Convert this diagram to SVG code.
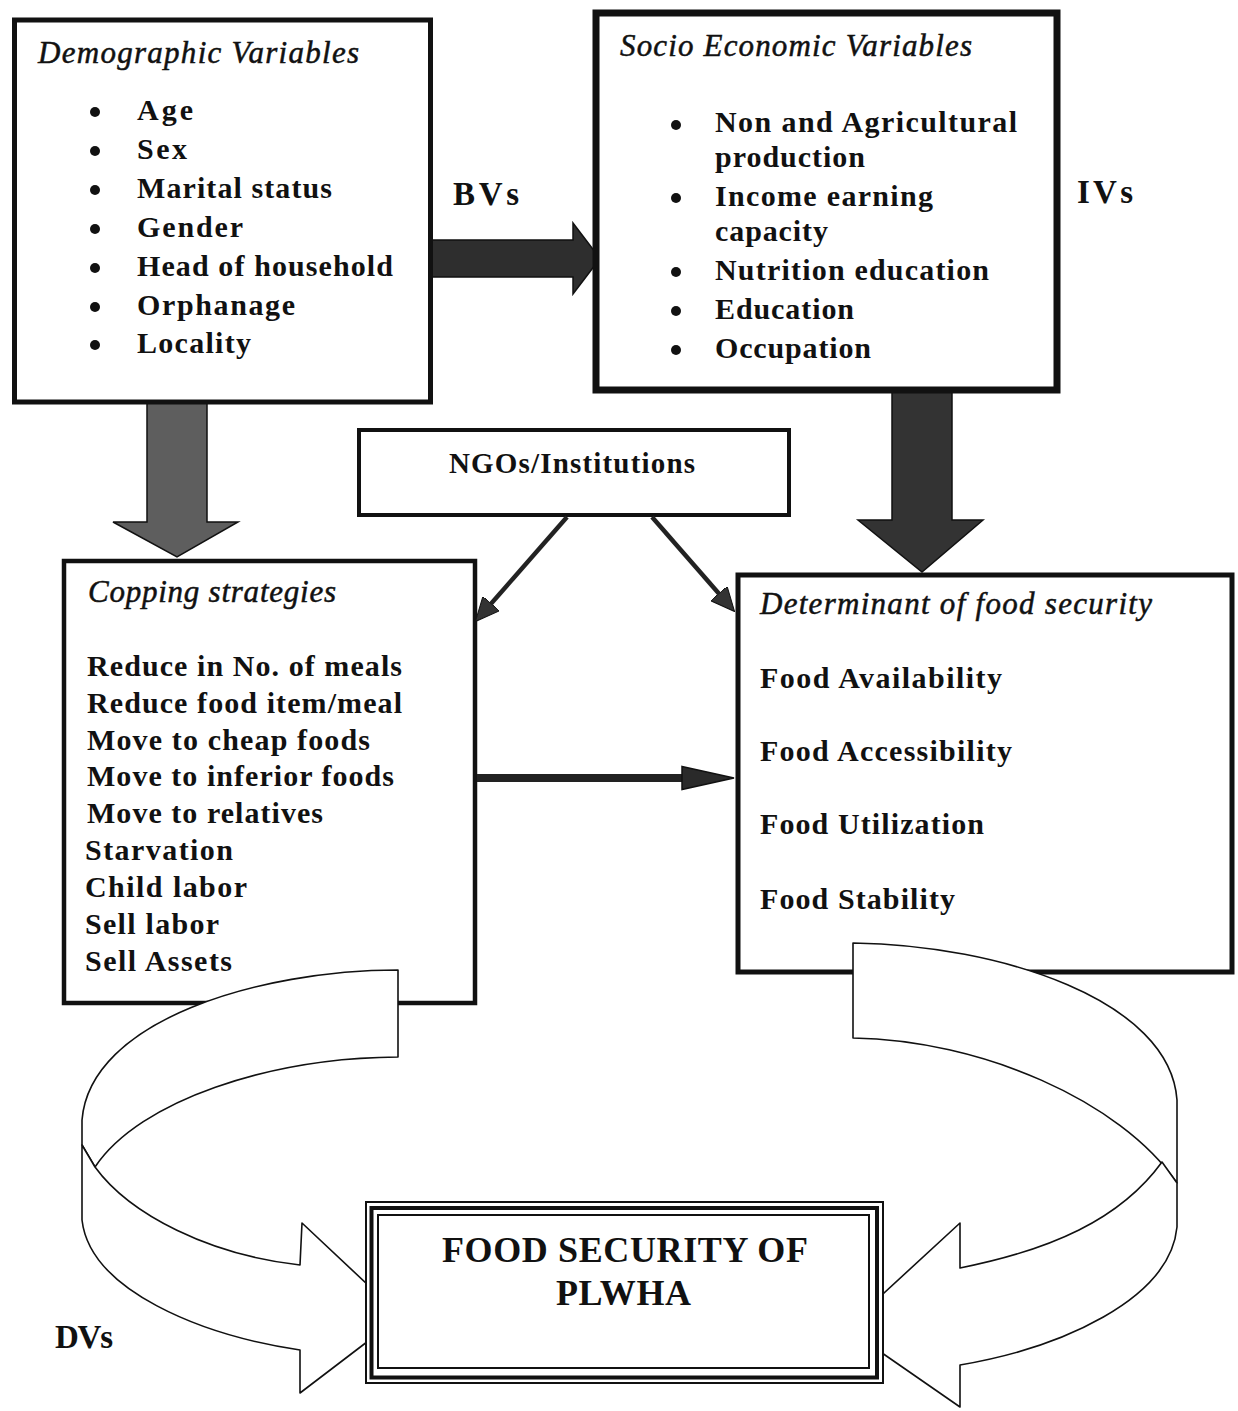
<svg xmlns="http://www.w3.org/2000/svg" width="1238" height="1411" viewBox="0 0 1238 1411">
<style>
text{font-family:"Liberation Serif","Times New Roman",serif;fill:#111;}
.ttl{font-style:italic;font-size:31px;stroke:#111;stroke-width:0.5;}
.it{font-weight:bold;font-size:30px;}
.lbl{font-weight:bold;font-size:33px;}
.box{fill:#fff;stroke:#111;}
.rib{fill:#fff;stroke:#111;stroke-width:1.6;stroke-linejoin:round;}
.blk{stroke:#111;stroke-width:1.5;stroke-linejoin:miter;}
.thin{stroke:#222;stroke-width:4.5;fill:none;}
.bul{fill:#111;}
</style>
<defs>
<marker id="ah" viewBox="0 0 24 22" refX="14" refY="11" markerWidth="24" markerHeight="22" markerUnits="userSpaceOnUse" orient="auto">
<path d="M0,0 L24,11 L0,22 Z" fill="#333" stroke="#111" stroke-width="1"/>
</marker>
</defs>
<rect width="1238" height="1411" fill="#fff"/>

<g id="connectors">
<polygon class="blk" fill="#2e2e2e" points="428,240 573,240 573,223 600,258.5 573,294 573,277 428,277"/>
<polygon class="blk" fill="#5e5e5e" points="147,400 207,400 207,522 238,522 177,557 113,522 147,522"/>
<polygon class="blk" fill="#333" points="892,388 952,388 952,520 983,520 922,572 858,520 892,520"/>
</g>

<g id="demographic">
<rect class="box" x="14.5" y="20" width="416" height="382" stroke-width="5"/>
<text class="ttl" x="38" y="63" textLength="321" lengthAdjust="spacing">Demographic Variables</text>
<circle class="bul" cx="95" cy="112" r="5"/><text class="it" x="137" y="120" textLength="56" lengthAdjust="spacing">Age</text>
<circle class="bul" cx="95" cy="151" r="5"/><text class="it" x="137" y="159" textLength="50" lengthAdjust="spacing">Sex</text>
<circle class="bul" cx="95" cy="190" r="5"/><text class="it" x="137" y="198" textLength="195" lengthAdjust="spacing">Marital status</text>
<circle class="bul" cx="95" cy="229" r="5"/><text class="it" x="137" y="237" textLength="106" lengthAdjust="spacing">Gender</text>
<circle class="bul" cx="95" cy="268" r="5"/><text class="it" x="137" y="276" textLength="256" lengthAdjust="spacing">Head of household</text>
<circle class="bul" cx="95" cy="307" r="5"/><text class="it" x="137" y="315" textLength="158" lengthAdjust="spacing">Orphanage</text>
<circle class="bul" cx="95" cy="345" r="5"/><text class="it" x="137" y="353" textLength="114" lengthAdjust="spacing">Locality</text>
</g>

<g id="socio">
<rect class="box" x="596" y="13" width="461" height="377" stroke-width="7"/>
<text class="ttl" x="620" y="56" textLength="352" lengthAdjust="spacing">Socio Economic Variables</text>
<circle class="bul" cx="676" cy="125" r="5"/><text class="it" x="715" y="132" textLength="302" lengthAdjust="spacing">Non and Agricultural</text>
<text class="it" x="715" y="167" textLength="150" lengthAdjust="spacing">production</text>
<circle class="bul" cx="676" cy="198" r="5"/><text class="it" x="715" y="206" textLength="218" lengthAdjust="spacing">Income earning</text>
<text class="it" x="715" y="241" textLength="113" lengthAdjust="spacing">capacity</text>
<circle class="bul" cx="676" cy="272" r="5"/><text class="it" x="715" y="280" textLength="274" lengthAdjust="spacing">Nutrition education</text>
<circle class="bul" cx="676" cy="311" r="5"/><text class="it" x="715" y="319" textLength="139" lengthAdjust="spacing">Education</text>
<circle class="bul" cx="676" cy="350" r="5"/><text class="it" x="715" y="358" textLength="156" lengthAdjust="spacing">Occupation</text>
</g>

<g id="label-bvs"><text class="lbl" x="453" y="205" textLength="66" lengthAdjust="spacing">BVs</text></g>
<g id="label-ivs"><text class="lbl" x="1077" y="203" textLength="56" lengthAdjust="spacing">IVs</text></g>

<g id="ngos">
<rect class="box" x="359" y="430" width="430" height="85" stroke-width="4"/>
<text x="449" y="473" font-size="29" font-weight="bold" textLength="246" lengthAdjust="spacing">NGOs/Institutions</text>
</g>

<g id="copping">
<rect class="box" x="64" y="561" width="411" height="442" stroke-width="4.5"/>
<text class="ttl" x="88" y="602" textLength="248" lengthAdjust="spacing">Copping strategies</text>
<text class="it" x="87" y="676" textLength="315" lengthAdjust="spacing">Reduce in No. of meals</text>
<text class="it" x="87" y="713" textLength="315" lengthAdjust="spacing">Reduce food item/meal</text>
<text class="it" x="87" y="750" textLength="283" lengthAdjust="spacing">Move to cheap foods</text>
<text class="it" x="87" y="786" textLength="307" lengthAdjust="spacing">Move to inferior foods</text>
<text class="it" x="87" y="823" textLength="236" lengthAdjust="spacing">Move to relatives</text>
<text class="it" x="85" y="860" textLength="148" lengthAdjust="spacing">Starvation</text>
<text class="it" x="85" y="897" textLength="162" lengthAdjust="spacing">Child labor</text>
<text class="it" x="85" y="934" textLength="134" lengthAdjust="spacing">Sell labor</text>
<text class="it" x="85" y="971" textLength="147" lengthAdjust="spacing">Sell Assets</text>
</g>

<g id="determinant">
<rect class="box" x="738" y="575" width="494" height="397" stroke-width="5"/>
<text class="ttl" x="760" y="614" textLength="392" lengthAdjust="spacing">Determinant of food security</text>
<text class="it" x="760" y="688" textLength="242" lengthAdjust="spacing">Food Availability</text>
<text class="it" x="760" y="761" textLength="252" lengthAdjust="spacing">Food Accessibility</text>
<text class="it" x="760" y="834" textLength="224" lengthAdjust="spacing">Food Utilization</text>
<text class="it" x="760" y="909" textLength="195" lengthAdjust="spacing">Food Stability</text>
</g>

<g id="connectors-thin">
<line class="thin" x1="567" y1="517" x2="482" y2="614" marker-end="url(#ah)"/>
<line class="thin" x1="652" y1="517" x2="728" y2="604" marker-end="url(#ah)"/>
<line x1="477" y1="778" x2="684" y2="778" stroke="#222" stroke-width="8"/>
<polygon points="682,766.5 734,778 682,789.5" fill="#2a2a2a" stroke="#111" stroke-width="1.5"/>
</g>

<g id="cycle-left">
<path class="rib" d="M398,970 C260,970 90,1020 82,1120 L82,1145 L95,1167 C140,1100 270,1058 398,1057 Z"/>
<path class="rib" d="M82,1145 L82,1220 C90,1290 200,1335 300,1350 L300,1393 L401,1316 L302,1223 L300,1265 C210,1255 130,1215 95,1167 Z"/>
</g>
<g id="cycle-right">
<path class="rib" d="M853,943 C1000,945 1170,1000 1177,1100 L1177,1183 C1120,1100 980,1040 853,1038 Z"/>
<path class="rib" d="M1162,1162 C1120,1220 1050,1250 960,1268 L960,1223 L846,1328 L960,1407 L960,1365 C1060,1348 1170,1300 1177,1227 L1177,1183 Z"/>
</g>

<g id="food-security">
<rect x="366" y="1202" width="517" height="181" fill="#fff" stroke="#111" stroke-width="2"/>
<rect x="371.5" y="1208" width="505.5" height="169.5" fill="none" stroke="#111" stroke-width="4"/>
<rect x="378" y="1215" width="491" height="153" fill="none" stroke="#111" stroke-width="2"/>
<text x="442" y="1262" font-size="36" font-weight="bold" textLength="366" lengthAdjust="spacing">FOOD SECURITY OF</text>
<text x="556" y="1305" font-size="36" font-weight="bold" textLength="135" lengthAdjust="spacing">PLWHA</text>
</g>

<g id="label-dvs"><text class="lbl" x="55" y="1348" font-size="29" textLength="58" lengthAdjust="spacing">DVs</text></g>
</svg>
